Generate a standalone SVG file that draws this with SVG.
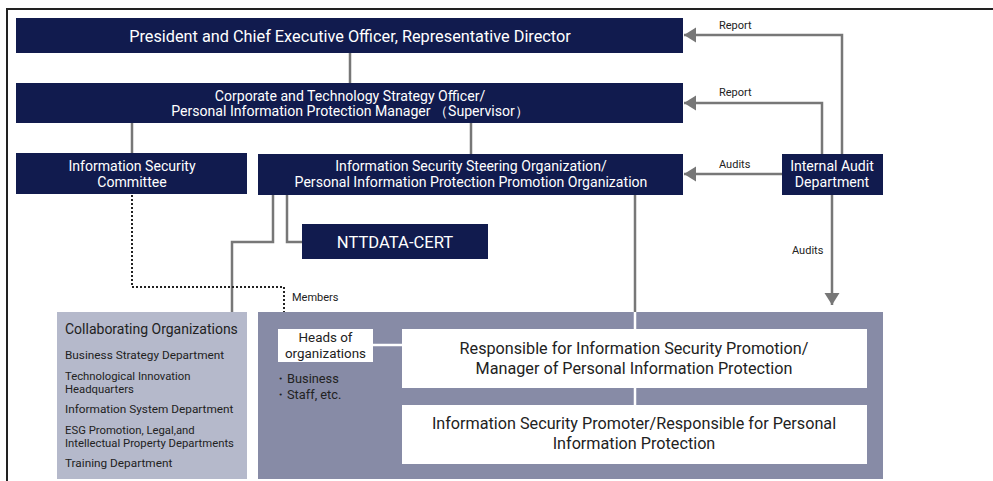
<svg xmlns="http://www.w3.org/2000/svg" width="993" height="481" viewBox="0 0 993 481">
<defs>
<style>
.nv{fill:#111b4e}
.wt{fill:#ffffff;font-family:Roboto,"Liberation Sans",sans-serif;text-anchor:middle}
.bk{fill:#222;font-family:Roboto,"Liberation Sans",sans-serif}
.ln{stroke:#777;stroke-width:2.5;fill:none}
.wl{stroke:#fff;stroke-width:2.5;fill:none}
.dot{stroke:#222;stroke-width:2;fill:none;stroke-dasharray:2 2}
</style>
<marker id="ah" markerUnits="userSpaceOnUse" markerWidth="14" markerHeight="16" refX="12" refY="7.5" orient="auto">
<polygon points="0,0 12,7.5 0,15" fill="#777"/>
</marker>
</defs>
<rect width="993" height="481" fill="#fff"/>
<path d="M7,481 V9 H993" stroke="#222" stroke-width="2" fill="none"/>

<g id="connectors">
<line class="ln" x1="350" y1="53" x2="350" y2="83"/>
<line class="ln" x1="132" y1="123" x2="132" y2="153"/>
<line class="ln" x1="471" y1="123" x2="471" y2="154"/>
<path class="ln" d="M842,154 V35 H684" marker-end="url(#ah)"/>
<path class="ln" d="M822,154 V103 H684" marker-end="url(#ah)"/>
<path class="ln" d="M782,174 H684" marker-end="url(#ah)"/>
<path class="ln" d="M832,195 V305" marker-end="url(#ah)"/>
<path class="ln" d="M287,195 V242 H302"/>
<path class="ln" d="M273,195 V242 H232 V312"/>
<path class="dot" d="M132,195 V287 H284 V312"/>
<line class="ln" x1="635" y1="195" x2="635" y2="312"/>
<text class="bk" x="719" y="29" font-size="11">Report</text>
<text class="bk" x="719" y="96" font-size="11">Report</text>
<text class="bk" x="719" y="168" font-size="11">Audits</text>
<text class="bk" x="792" y="254" font-size="11">Audits</text>
<text class="bk" x="292" y="301" font-size="11">Members</text>
</g>

<g id="president">
<rect class="nv" x="16" y="18" width="667" height="35"/>
<text class="wt" x="350" y="41.5" font-size="16.3">President and Chief Executive Officer, Representative Director</text>
</g>

<g id="corporate">
<rect class="nv" x="16" y="83" width="667" height="40"/>
<text class="wt" x="350" y="100.5" font-size="14.1">Corporate and Technology Strategy Officer/</text>
<text class="wt" x="350" y="116" font-size="14.1">Personal Information Protection Manager （Supervisor）</text>
</g>

<g id="committee">
<rect class="nv" x="16" y="153" width="231" height="41"/>
<text class="wt" x="132" y="171" font-size="14.1">Information Security</text>
<text class="wt" x="132" y="187" font-size="14.1">Committee</text>
</g>

<g id="steering">
<rect class="nv" x="258" y="154" width="425" height="41"/>
<text class="wt" x="471" y="171" font-size="14.1">Information Security Steering Organization/</text>
<text class="wt" x="471" y="187" font-size="14.1">Personal Information Protection Promotion Organization</text>
</g>

<g id="audit">
<rect class="nv" x="782" y="154" width="101" height="41"/>
<text class="wt" x="832" y="171" font-size="14.1">Internal Audit</text>
<text class="wt" x="832" y="187" font-size="14.1">Department</text>
</g>

<g id="cert">
<rect class="nv" x="302" y="224" width="186" height="35"/>
<text class="wt" x="395" y="248" font-size="16.6">NTTDATA-CERT</text>
</g>

<g id="collaborating">
<rect x="57" y="312" width="190" height="167" fill="#b5b9cb"/>
<text class="bk" x="65" y="334" font-size="14">Collaborating Organizations</text>
<text class="bk" x="65" y="359" font-size="11.8">Business Strategy Department</text>
<text class="bk" x="65" y="379.5" font-size="11.3">Technological Innovation<tspan x="65" y="392.5">Headquarters</tspan></text>
<text class="bk" x="65" y="413" font-size="11.8">Information System Department</text>
<text class="bk" x="65" y="433.5" font-size="11.3">ESG Promotion, Legal,and<tspan x="65" y="446.5">Intellectual Property Departments</tspan></text>
<text class="bk" x="65" y="467" font-size="11.8">Training Department</text>
</g>

<g id="organizations">
<rect x="258" y="312" width="625" height="167" fill="#878ba6"/>
<line class="wl" x1="635" y1="312" x2="635" y2="329"/>
<line class="wl" x1="635" y1="388" x2="635" y2="405"/>
<line class="wl" x1="373" y1="345" x2="402" y2="345"/>
</g>

<g id="heads">
<rect x="278" y="329" width="95" height="33" fill="#fff"/>
<text class="bk" x="325.5" y="342" font-size="13.4" text-anchor="middle">Heads of</text>
<text class="bk" x="325.5" y="358" font-size="13.4" text-anchor="middle">organizations</text>
<text class="bk" x="274" y="383" font-size="12.8">・Business</text>
<text class="bk" x="274" y="399" font-size="12.8">・Staff, etc.</text>
</g>

<g id="responsible">
<rect x="402" y="329" width="465" height="59" fill="#fff"/>
<text class="bk" x="634" y="353.5" font-size="16.2" text-anchor="middle">Responsible for Information Security Promotion/</text>
<text class="bk" x="634" y="373.5" font-size="16.2" text-anchor="middle">Manager of Personal Information Protection</text>
</g>

<g id="promoter">
<rect x="402" y="405" width="465" height="59" fill="#fff"/>
<text class="bk" x="634" y="428.5" font-size="16.2" text-anchor="middle">Information Security Promoter/Responsible for Personal</text>
<text class="bk" x="634" y="448.5" font-size="16.2" text-anchor="middle">Information Protection</text>
</g>
</svg>
